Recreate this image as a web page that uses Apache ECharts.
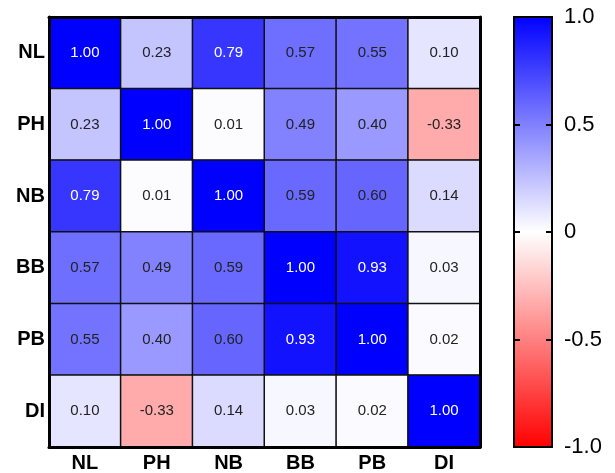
<!DOCTYPE html>
<html><head><meta charset="utf-8">
<script src="https://cdn.jsdelivr.net/npm/echarts@6/dist/echarts.min.js"></script>
<style>html,body{margin:0;padding:0;background:#fff}#c{width:615px;height:473px}</style>
</head><body><div id="c"></div>
<script>
var categories = ['NL','PH','NB','BB','PB','DI'];
var matrix = [
  [1.00, 0.23, 0.79, 0.57, 0.55, 0.10],
  [0.23, 1.00, 0.01, 0.49, 0.40, -0.33],
  [0.79, 0.01, 1.00, 0.59, 0.60, 0.14],
  [0.57, 0.49, 0.59, 1.00, 0.93, 0.03],
  [0.55, 0.40, 0.60, 0.93, 1.00, 0.02],
  [0.10, -0.33, 0.14, 0.03, 0.02, 1.00]
];
var colorbarTicks = [-1, -0.5, 0, 0.5, 1];
var colorbarLabels = {'-1':'-1.0','-0.5':'-0.5','0':'0','0.5':'0.5','1':'1.0'};

var data = [];
for (var r = 0; r < matrix.length; r++) {
  for (var c = 0; c < matrix[r].length; c++) {
    var v = matrix[r][c];
    data.push({value: [c, r, v], label: {color: v > 0.7 ? '#ffffff' : '#222222'}});
  }
}
var font = 'Liberation Sans, Arial, sans-serif';
var barLine = {show: true, onZero: false, lineStyle: {color: '#000', width: 2}};
var chart = echarts.init(document.getElementById('c'), null, {renderer: 'canvas'});
chart.setOption({
  animation: false,
  backgroundColor: '#ffffff',
  grid: [
    {left: 49, top: 17, width: 431, height: 430, containLabel: false},
    {left: 514, top: 17, width: 38, height: 430, show: true, borderColor: '#000', borderWidth: 2,
     backgroundColor: new echarts.graphic.LinearGradient(0, 0, 0, 1, [
       {offset: 0, color: '#0000ff'}, {offset: 0.5, color: '#ffffff'}, {offset: 1, color: '#ff0000'}])}
  ],
  xAxis: [
    {type: 'category', data: categories, gridIndex: 0, position: 'bottom', z: 5,
     axisLine: {show: true, lineStyle: {color: '#000', width: 3}}, axisTick: {show: false},
     axisLabel: {color: '#000', fontSize: 20, fontWeight: 'bold', fontFamily: font, margin: 6},
     splitLine: {show: false}},
    {type: 'category', data: categories, gridIndex: 0, position: 'top', z: 5,
     axisLine: {show: true, lineStyle: {color: '#000', width: 3}}, axisTick: {show: false},
     axisLabel: {show: false}},
    {type: 'value', gridIndex: 1, min: 0, max: 1, position: 'bottom', z: 5,
     axisLine: barLine, axisTick: {show: false}, axisLabel: {show: false}, splitLine: {show: false}},
    {type: 'value', gridIndex: 1, min: 0, max: 1, position: 'top', z: 5,
     axisLine: barLine, axisTick: {show: false}, axisLabel: {show: false}, splitLine: {show: false}}
  ],
  yAxis: [
    {type: 'category', data: categories, gridIndex: 0, inverse: true, position: 'left', z: 5,
     axisLine: {show: true, lineStyle: {color: '#000', width: 3}}, axisTick: {show: false},
     axisLabel: {color: '#000', fontSize: 20, fontWeight: 'bold', fontFamily: font, margin: 4}},
    {type: 'category', data: categories, gridIndex: 0, inverse: true, position: 'right', z: 5,
     axisLine: {show: true, lineStyle: {color: '#000', width: 3}}, axisTick: {show: false},
     axisLabel: {show: false}},
    {type: 'value', gridIndex: 1, min: -1, max: 1, interval: 0.5, position: 'right', z: 5,
     axisLine: barLine, splitLine: {show: false},
     axisTick: {show: true, inside: true, length: 6, lineStyle: {color: '#000', width: 2}},
     axisLabel: {color: '#000', fontSize: 22, fontFamily: font, margin: 12,
       formatter: function (v) { return colorbarLabels[String(v)]; }}},
    {type: 'value', gridIndex: 1, min: -1, max: 1, interval: 0.5, position: 'left', z: 5,
     axisLine: barLine, splitLine: {show: false},
     axisTick: {show: true, inside: true, length: 6, lineStyle: {color: '#000', width: 2}},
     axisLabel: {show: false}}
  ],
  visualMap: {
    show: false, min: -1, max: 1, dimension: 2, seriesIndex: 0,
    inRange: {color: ['#ff0000', '#ffffff', '#0000ff']}
  },
  series: [{
    type: 'heatmap', xAxisIndex: 0, yAxisIndex: 0, data: data,
    label: {show: true, fontSize: 15, fontFamily: font,
      formatter: function (p) { return p.value[2].toFixed(2); }},
    itemStyle: {borderColor: '#111', borderWidth: 1.5}
  }]
});
</script></body></html>
